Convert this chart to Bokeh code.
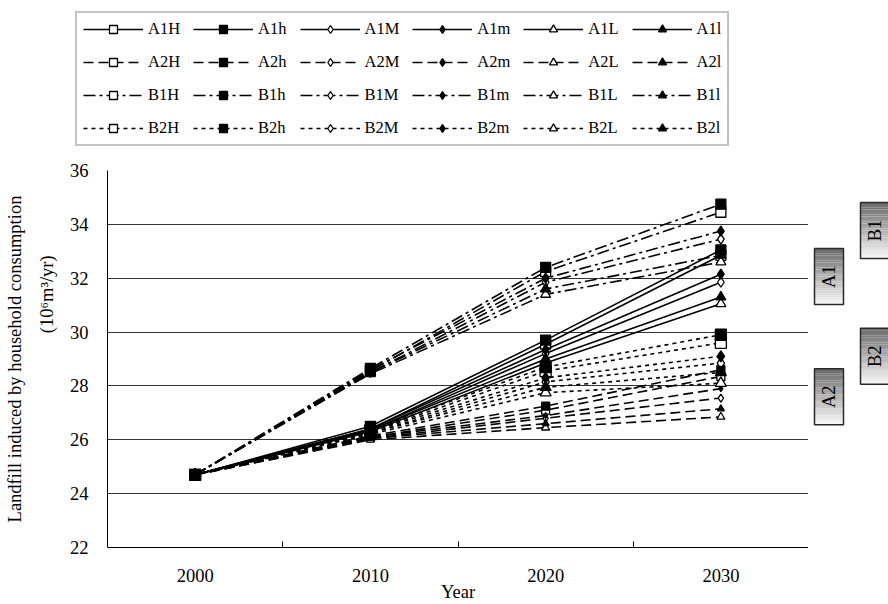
import math
from bokeh.plotting import figure
from bokeh.models import (ColumnDataSource, Legend, LegendItem, FixedTicker, Range1d, LinearAxis)
from bokeh.layouts import column, row
from bokeh.core.properties import value
from bokeh.embed import file_html
from bokeh.resources import INLINE

# ---------------- data ----------------
years = [2000, 2010, 2020, 2030]
year_labels = ["2000", "2010", "2020", "2030"]
y_ticks = [22, 24, 26, 28, 30, 32, 34, 36]

A1H = [24.7, 26.40, 29.55, 32.85]
A1h = [24.7, 26.50, 29.70, 33.05]
A1M = [24.7, 26.35, 29.20, 31.85]
A1m = [24.7, 26.40, 29.35, 32.15]
A1L = [24.7, 26.30, 28.85, 31.05]
A1l = [24.7, 26.35, 29.00, 31.30]

A2H = [24.7, 26.10, 27.10, 28.35]
A2h = [24.7, 26.15, 27.25, 28.60]
A2M = [24.7, 26.05, 26.80, 27.55]
A2m = [24.7, 26.10, 26.90, 27.90]
A2L = [24.7, 26.00, 26.45, 26.85]
A2l = [24.7, 26.05, 26.60, 27.15]

B1H = [24.7, 28.55, 32.25, 34.45]
B1h = [24.7, 28.65, 32.40, 34.75]
B1M = [24.7, 28.50, 31.85, 33.45]
B1m = [24.7, 28.60, 32.00, 33.75]
B1L = [24.7, 28.45, 31.40, 32.60]
B1l = [24.7, 28.50, 31.60, 32.85]

B2H = [24.7, 26.30, 28.55, 29.60]
B2h = [24.7, 26.35, 28.70, 29.90]
B2M = [24.7, 26.25, 28.15, 28.85]
B2m = [24.7, 26.30, 28.30, 29.10]
B2L = [24.7, 26.20, 27.75, 28.10]
B2l = [24.7, 26.25, 27.95, 28.50]

series = [
    ("A1H", A1H), ("A1h", A1h), ("A1M", A1M), ("A1m", A1m), ("A1L", A1L), ("A1l", A1l),
    ("A2H", A2H), ("A2h", A2h), ("A2M", A2M), ("A2m", A2m), ("A2L", A2L), ("A2l", A2l),
    ("B1H", B1H), ("B1h", B1h), ("B1M", B1M), ("B1m", B1m), ("B1L", B1L), ("B1l", B1l),
    ("B2H", B2H), ("B2h", B2h), ("B2M", B2M), ("B2m", B2m), ("B2L", B2L), ("B2l", B2l),
]

# scenario tags on the right
scen_labels = ["A1", "A2", "B1", "B2"]
scen_centres = [32.06, 27.60, 33.77, 29.10]

y_label_1 = "Landfill induced by household consumption"
y_label_2 = "(10\u2076m\u00b3/yr)"

# ---------------- styles ----------------
FONT = "Liberation Serif"
dash_of = {"A1": "solid", "A2": "10 5", "B1": "12 4 3 4", "B2": "4 4"}
size_of = {"A1": 10, "A2": 8, "B1": 10, "B2": 11}
marker_of = {"H": ("square", "white"), "h": ("square", "black"),
             "M": ("diamond", "white"), "m": ("diamond", "black"),
             "L": ("triangle", "white"), "l": ("triangle", "black")}

# ---------------- main plot ----------------
p = figure(frame_width=701, frame_height=377,
           x_range=Range1d(1995, 2035), y_range=Range1d(22, 36),
           output_backend="svg", toolbar_location=None,
           min_border_left=107, min_border_right=0, min_border_top=18, min_border_bottom=52)
p.outline_line_color = None
p.background_fill_color = "white"
p.xgrid.visible = False
p.ygrid.grid_line_color = "#333333"
p.ygrid.grid_line_width = 1

p.xaxis.ticker = FixedTicker(ticks=years, minor_ticks=[2005, 2015, 2025])
p.xaxis.major_label_overrides = {y: l for y, l in zip(years, year_labels)}
p.xaxis.major_tick_in = 0
p.xaxis.major_tick_out = 0
p.xaxis.minor_tick_in = 6
p.xaxis.minor_tick_out = 0
p.xaxis.minor_tick_line_color = "black"
p.xaxis.major_label_standoff = 21
p.xaxis.axis_label = "Year"
p.xaxis.axis_label_standoff = -3

p.yaxis.ticker = FixedTicker(ticks=y_ticks, minor_ticks=[])
p.yaxis.major_tick_in = 0
p.yaxis.major_tick_out = 0
p.yaxis.major_label_standoff = 19
p.yaxis.axis_label = "\u00a0" * 28 + y_label_2
p.yaxis.axis_label_standoff = 10

# outer left axis carrying only the first line of the title
ax_outer = LinearAxis(ticker=FixedTicker(ticks=[], minor_ticks=[]),
                      axis_line_color=None, major_tick_line_color=None,
                      minor_tick_line_color=None, axis_label=y_label_1,
                      axis_label_standoff=9, major_label_standoff=0)
p.add_layout(ax_outer, "left")

for ax in (p.xaxis[0], p.yaxis[0], ax_outer):
    ax.major_label_text_font = FONT
    ax.major_label_text_font_size = "18.5px"
    ax.major_label_text_color = "black"
    ax.axis_label_text_font = FONT
    ax.axis_label_text_font_size = "18.5px"
    ax.axis_label_text_font_style = "normal"
    ax.axis_label_text_color = "black"
for ax in (p.xaxis[0], p.yaxis[0]):
    ax.axis_line_color = "black"
    ax.axis_line_width = 1

# ---------------- legend figure ----------------
lf = figure(width=880, height=152, output_backend="svg", toolbar_location=None,
            x_axis_type=None, y_axis_type=None, min_border=0,
            x_range=Range1d(0, 1), y_range=Range1d(0, 1))
lf.outline_line_color = None
items = []

for name, vals in series:
    scen, var = name[:2], name[2]
    mk, fill = marker_of[var]
    sz = size_of[scen]
    if name == "A2m":
        sz = 6
    if name == "A2l":
        sz = 7
    dash = dash_of[scen]
    src = ColumnDataSource(dict(x=years, y=vals))
    p.line("x", "y", source=src, line_color="black", line_width=1.6, line_dash=dash)
    p.scatter("x", "y", source=src, marker=mk, size=sz, fill_color=fill,
              line_color="black", line_width=1.3)
    # legend-only copies (their data lie outside this figure's ranges)
    lr = lf.line("x", "y", source=src, line_color="black", line_width=1.6, line_dash=dash)
    sr = lf.scatter("x", "y", source=src, marker=mk, size=sz, fill_color=fill,
                    line_color="black", line_width=1.3)
    items.append(LegendItem(label=name, renderers=[lr, sr]))

leg = Legend(items=items, location=(75, 6), orientation="horizontal", ncols=6,
             glyph_width=60, glyph_height=20, label_standoff=5, spacing=13,
             padding=6, margin=0, border_line_color="#888888", border_line_width=2,
             label_text_font=FONT, label_text_font_size="16.5px", label_text_color="black",
             background_fill_color="white", background_fill_alpha=1)
lf.add_layout(leg, "center")

# ---------------- right tag figure ----------------
rf = figure(frame_width=80, frame_height=377, x_range=Range1d(0, 80), y_range=p.y_range,
            output_backend="svg", toolbar_location=None, x_axis_type=None, y_axis_type=None,
            min_border_left=0, min_border_right=0, min_border_top=18, min_border_bottom=0)
rf.outline_line_color = None

box_left = {"A1": 6, "A2": 6, "B1": 52, "B2": 52}
box_w = 29
box_h = 2.08
nsteps = 24
for lab, c in zip(scen_labels, scen_centres):
    top = c + box_h / 2
    l0 = box_left[lab]
    lefts, rights, tops, bottoms, cols = [], [], [], [], []
    for i in range(nsteps):
        t = i / (nsteps - 1)
        g = int(round(0x6c + (0xf6 - 0x6c) * t))
        cols.append("#%02x%02x%02x" % (g, g, g))
        tops.append(top - box_h * i / nsteps)
        bottoms.append(top - box_h * (i + 1) / nsteps)
        lefts.append(l0)
        rights.append(l0 + box_w)
    rf.quad(left=lefts, right=rights, top=tops, bottom=bottoms, fill_color=cols, line_color=None)
    rf.quad(left=[l0], right=[l0 + box_w], top=[top], bottom=[top - box_h],
            fill_alpha=0, line_color="#2a2a2a", line_width=1.5)
    rf.text(x=[l0 + box_w / 2], y=[c], text=[lab], angle=math.pi / 2,
            text_align="center", text_baseline="middle",
            text_font=value(FONT), text_font_size="18.5px", text_color="black")

layout = column(lf, row(p, rf))
open("out.html", "w").write(file_html(layout, INLINE))
